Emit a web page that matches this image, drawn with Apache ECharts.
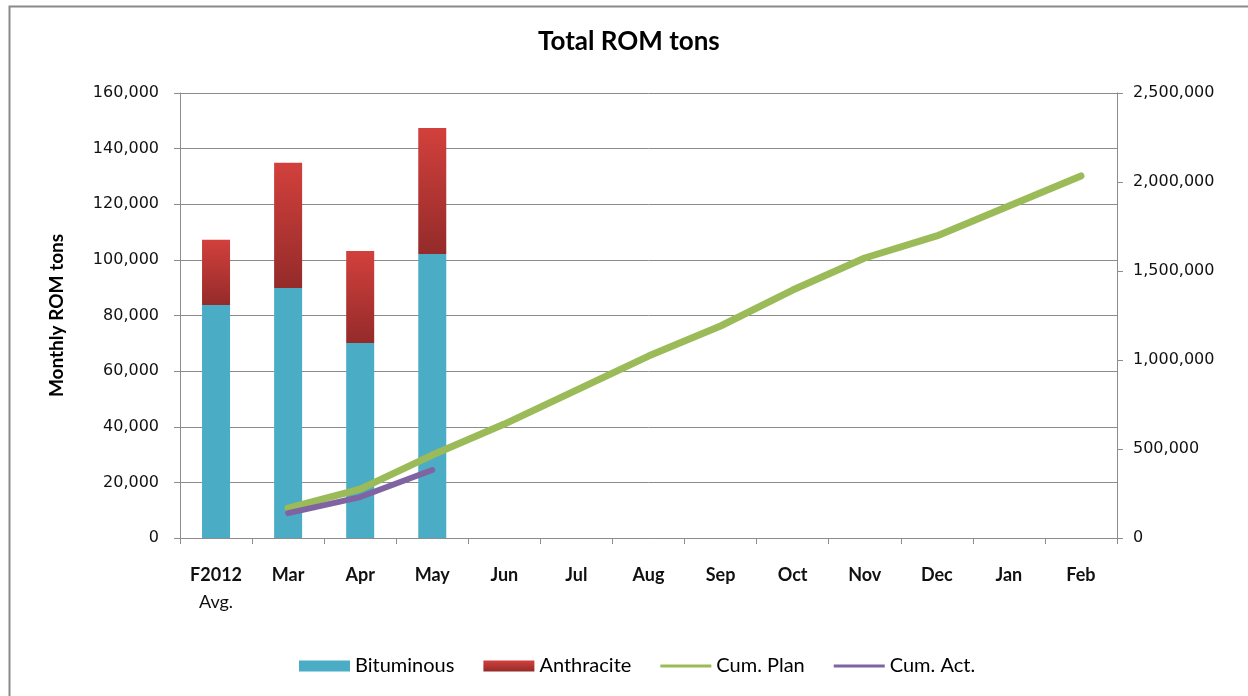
<!DOCTYPE html>
<html>
<head>
<meta charset="utf-8">
<script src="https://cdn.jsdelivr.net/npm/echarts@6/dist/echarts.min.js"></script>
<style>
html,body{margin:0;padding:0;background:#fff;}
#chart{width:1248px;height:696px;}
</style>
</head>
<body>
<div id="chart"></div>
<script>
var categories = ['F2012\nAvg.', 'Mar', 'Apr', 'May', 'Jun', 'Jul', 'Aug', 'Sep', 'Oct', 'Nov', 'Dec', 'Jan', 'Feb'];
var bituminous = [83800, 89900, 70100, 102100, null, null, null, null, null, null, null, null, null];
var anthracite = [23400, 45000, 33100, 45300, null, null, null, null, null, null, null, null, null];
var cumPlan = [null, 168000, 275000, 466000, 640000, 831000, 1022000, 1191000, 1393000, 1573000, 1697000, 1865000, 2034000];
var cumAct = [null, 140000, 230000, 382000, null, null, null, null, null, null, null, null, null];
var leftTicks = [0, 20000, 40000, 60000, 80000, 100000, 120000, 140000, 160000];
var rightTicks = [0, 500000, 1000000, 1500000, 2000000, 2500000];

function fmt(v){ return v.toString().replace(/\B(?=(\d{3})+(?!\d))/g, ','); }

var chart = echarts.init(document.getElementById('chart'), null, {renderer:'canvas'});
var axisGray = '#8c8c8c';
var tickFont = {fontFamily:'DejaVu Sans', fontSize:16, color:'#111'};
chart.setOption({
  animation:false,
  backgroundColor:'#fff',
  graphic:[
    {type:'rect', left:7, top:4, shape:{width:1260, height:720}, style:{fill:'none', stroke:'#8a8a8a', lineWidth:2}, silent:true},
    {type:'text', left:538, top:29, style:{text:'Total ROM tons', fontFamily:'Lato', fontWeight:'bold', fontSize:26, fill:'#000'}, silent:true}
  ],
  grid:{left:180, right:131, top:93, bottom:158},
  legend:{
    top:651, left:294, itemWidth:51, itemHeight:11, itemGap:29,
    textStyle:{fontFamily:'Lato', fontSize:20, color:'#000'},
    data:[
      {name:'Bituminous', icon:'rect'},
      {name:'Anthracite', icon:'rect'},
      {name:'Cum. Plan', icon:'path://M0,0 L50,0 L50,3 L0,3 Z', itemStyle:{color:'#9bbb59'}},
      {name:'Cum. Act.', icon:'path://M0,0 L50,0 L50,3 L0,3 Z', itemStyle:{color:'#8064a2'}}
    ]
  },
  xAxis:{
    type:'category', data:categories, boundaryGap:true,
    axisLine:{lineStyle:{color:axisGray}},
    axisTick:{show:true, length:6, alignWithLabel:false, lineStyle:{color:axisGray}},
    axisLabel:{interval:0, margin:24, fontFamily:'Lato', fontSize:18, color:'#111', fontWeight:'bold', lineHeight:27,
      formatter:function(v){ var p=v.split('\n'); return p.length>1 ? p[0]+'\n{n|'+p[1]+'}' : v; },
      rich:{n:{fontFamily:'Lato', fontSize:18, fontWeight:'normal', color:'#111', lineHeight:27}}}
  },
  yAxis:[{
    type:'value', min:0, max:160000, interval:20000,
    name:'Monthly ROM tons', nameLocation:'middle', nameGap:114, nameRotate:90,
    nameTextStyle:{fontFamily:'Lato', fontWeight:'bold', fontSize:19, color:'#000'},
    axisLine:{show:true, lineStyle:{color:axisGray}},
    axisTick:{show:true, length:6, lineStyle:{color:axisGray}},
    axisLabel:Object.assign({margin:21, formatter:function(v){ return leftTicks.indexOf(v)>=0 ? fmt(v) : ''; }}, tickFont),
    splitLine:{show:true, lineStyle:{color:'#8c8c8c', width:1}}
  },{
    type:'value', min:0, max:2500000, interval:500000, position:'right',
    axisLine:{show:true, lineStyle:{color:axisGray}},
    axisTick:{show:true, length:6, lineStyle:{color:axisGray}},
    axisLabel:Object.assign({margin:16, formatter:function(v){ return rightTicks.indexOf(v)>=0 ? fmt(v) : ''; }}, tickFont),
    splitLine:{show:false}
  }],
  series:[
    {name:'Bituminous', type:'bar', stack:'a', barWidth:28, data:bituminous, itemStyle:{color:'#4bacc6'}},
    {name:'Anthracite', type:'bar', stack:'a', barWidth:28, data:anthracite,
      itemStyle:{color:new echarts.graphic.LinearGradient(0,0,0,1,[{offset:0,color:'#d2403c'},{offset:1,color:'#942b2a'}])}},
    {name:'Cum. Plan', type:'line', yAxisIndex:1, data:cumPlan, symbol:'none', smooth:false,
      lineStyle:{color:'#9bbb59', width:7, cap:'round', join:'round'}, itemStyle:{color:'#9bbb59'}},
    {name:'Cum. Act.', type:'line', yAxisIndex:1, data:cumAct, symbol:'none',
      lineStyle:{color:'#8064a2', width:6, cap:'round', join:'round'}, itemStyle:{color:'#8064a2'}}
  ]
});
</script>
</body>
</html>
